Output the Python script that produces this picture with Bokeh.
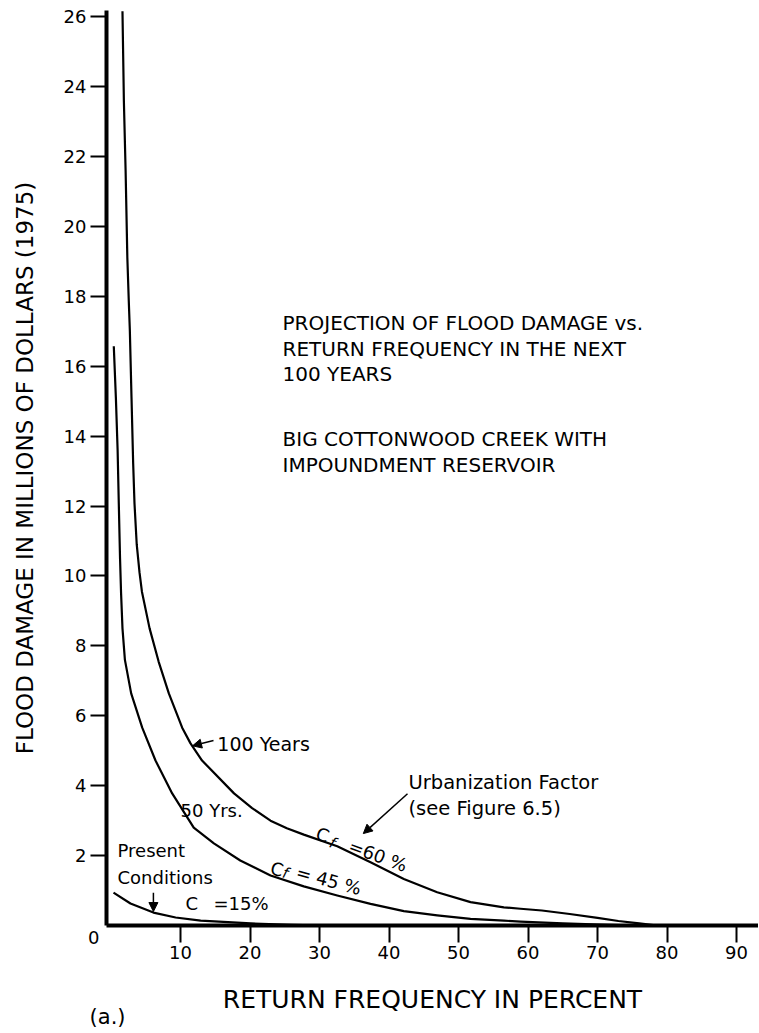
from bokeh.plotting import figure
from bokeh.models import Range1d, FixedTicker, Label, Arrow, NormalHead, LinearAxis
from bokeh.core.properties import value
from bokeh.embed import file_html
from bokeh.resources import INLINE
import math

# ---- data ----
yr100_x = [1.65, 1.85, 2.1, 2.35, 2.55, 2.71, 2.95, 3.19, 3.38, 3.7, 4.1, 4.45, 5.55, 6.85,
           8.32, 10.24, 11.44, 13.1, 17.7, 20.3, 22.95, 25.3, 27.74, 32.55, 37.34, 42.13,
           46.93, 51.73, 56.52, 58.92, 62.0, 66.0, 70.0, 73.0, 76.0, 78.6]
yr100_y = [26.15, 23.6, 21.6, 19.1, 17.9, 17.02, 15.1, 13.21, 12.07, 10.9, 10.1, 9.55, 8.5, 7.55,
           6.64, 5.66, 5.21, 4.72, 3.78, 3.36, 3.0, 2.78, 2.6, 2.27, 1.81, 1.33,
           0.95, 0.67, 0.52, 0.48, 0.43, 0.33, 0.22, 0.13, 0.06, 0.0]

yr50_x = [0.4, 0.7, 0.95, 1.12, 1.3, 1.45, 1.65, 2.0, 2.9, 4.49, 6.4, 8.8, 11.9, 14.8, 18.6,
          22.95, 27.74, 32.55, 37.34, 42.13, 46.93, 51.73, 56.52, 58.92, 65.0, 70.4, 76.0]
yr50_y = [16.57, 15.1, 13.6, 12.07, 10.5, 9.5, 8.5, 7.6, 6.64, 5.66, 4.72, 3.78, 2.8, 2.35, 1.86,
          1.43, 1.12, 0.86, 0.62, 0.41, 0.29, 0.19, 0.14, 0.11, 0.06, 0.03, 0.0]

present_x = [0.36, 2.8, 6.1, 9.3, 12.9, 20.1, 26.0, 31.0]
present_y = [0.94, 0.63, 0.37, 0.23, 0.14, 0.06, 0.02, 0.0]

x_ticks = [10, 20, 30, 40, 50, 60, 70, 80, 90]
y_ticks = [2, 4, 6, 8, 10, 12, 14, 16, 18, 20, 22, 24, 26]

FONT = "DejaVu Sans"

p = figure(width=758, height=1032, output_backend="svg", toolbar_location=None,
           x_range=Range1d(-15.9, 93.16), y_range=Range1d(-3.06, 26.46),
           x_axis_location=None, y_axis_location=None, min_border=0)
p.outline_line_color = None
p.grid.visible = False
p.background_fill_color = "white"
p.border_fill_color = "white"

xaxis = LinearAxis(fixed_location=0, bounds=(-0.65, 93.16), ticker=FixedTicker(ticks=x_ticks),
                   axis_label="RETURN FREQUENCY IN PERCENT")
yaxis = LinearAxis(fixed_location=-0.65, bounds=(0, 26.17), ticker=FixedTicker(ticks=y_ticks),
                   axis_label="FLOOD DAMAGE IN MILLIONS OF DOLLARS (1975)")
for ax in (xaxis, yaxis):
    ax.axis_line_width = 4
    ax.axis_line_color = "black"
    ax.major_tick_line_width = 2
    ax.major_tick_line_color = "black"
    ax.major_tick_in = 0
    ax.minor_tick_line_color = None
    ax.major_label_text_font = FONT
    ax.major_label_text_font_size = "18px"
    ax.major_label_text_color = "black"
    ax.axis_label_text_font = FONT
    ax.axis_label_text_font_style = "normal"
    ax.axis_label_text_color = "black"
xaxis.major_tick_out = 17
yaxis.major_tick_out = 16
xaxis.major_label_standoff = 3
yaxis.major_label_standoff = 4
xaxis.axis_label_text_font_size = "25px"
yaxis.axis_label_text_font_size = "23px"
xaxis.axis_label_standoff = 23
yaxis.axis_label_standoff = 23
p.add_layout(xaxis, "below")
p.add_layout(yaxis, "left")

# curves
for xs, ys in ((yr100_x, yr100_y), (yr50_x, yr50_y), (present_x, present_y)):
    p.line(xs, ys, line_color="black", line_width=2.2, line_join="round")

def txt(x, y, s, size="18px", angle=0.0, style="normal", align="left"):
    p.text(x=[x], y=[y], text=[s], text_font=value(FONT), text_font_size=size,
           text_font_style=style, text_color="black", text_align=align,
           text_baseline="middle", angle=angle)

# title block
txt(24.68, 17.23, "PROJECTION OF FLOOD DAMAGE vs.", size="20px")
txt(24.68, 16.49, "RETURN FREQUENCY IN THE NEXT", size="20px")
txt(24.68, 15.77, "100 YEARS", size="20px")
txt(24.68, 13.91, "BIG COTTONWOOD CREEK WITH", size="20px")
txt(24.68, 13.17, "IMPOUNDMENT RESERVOIR", size="20px")

# curve labels
txt(15.3, 5.2, "100 Years", size="19px")
txt(10.0, 3.29, "50 Yrs.")
txt(0.94, 2.14, "Present")
txt(0.94, 1.37, "Conditions")
txt(10.7, 0.63, "C")
txt(14.75, 0.63, "=15%")
txt(42.8, 4.09, "Urbanization Factor", size="19.5px")
txt(42.8, 3.34, "(see Figure 6.5)", size="19.5px")

a60 = -math.radians(20)
txt(29.6, 2.66, "C", angle=a60)
txt(31.5, 2.39, "f", size="15px", style="italic", angle=a60)
txt(34.3, 2.3, "=60 %", angle=a60)
a45 = -math.radians(15)
txt(23.0, 1.66, "C", angle=a45)
txt(24.7, 1.52, "f", size="15px", style="italic", angle=a45)
txt(26.7, 1.54, "= 45 %", angle=a45)

head = dict(size=9, fill_color="black", line_color="black")
p.add_layout(Arrow(end=NormalHead(**head), x_start=14.75, y_start=5.29, x_end=11.73, y_end=5.14,
                   line_width=1.5, line_color="black"))
p.add_layout(Arrow(end=NormalHead(**head), x_start=6.1, y_start=0.94, x_end=6.1, y_end=0.4,
                   line_width=1.5, line_color="black"))
p.add_layout(Arrow(end=NormalHead(**head), x_start=42.66, y_start=3.77, x_end=36.3, y_end=2.63,
                   line_width=1.5, line_color="black"))

# origin label and panel tag
p.add_layout(Label(x=-2.5, y=-0.34, text="0", text_font=FONT, text_font_size="18px",
                   text_align="center", text_baseline="middle", text_color="black"))
p.add_layout(Label(x=-0.5, y=-2.63, text="(a.)", text_font=FONT, text_font_size="21px",
                   text_align="center", text_baseline="middle", text_color="black"))

open("out.html", "w").write(file_html(p, INLINE))
